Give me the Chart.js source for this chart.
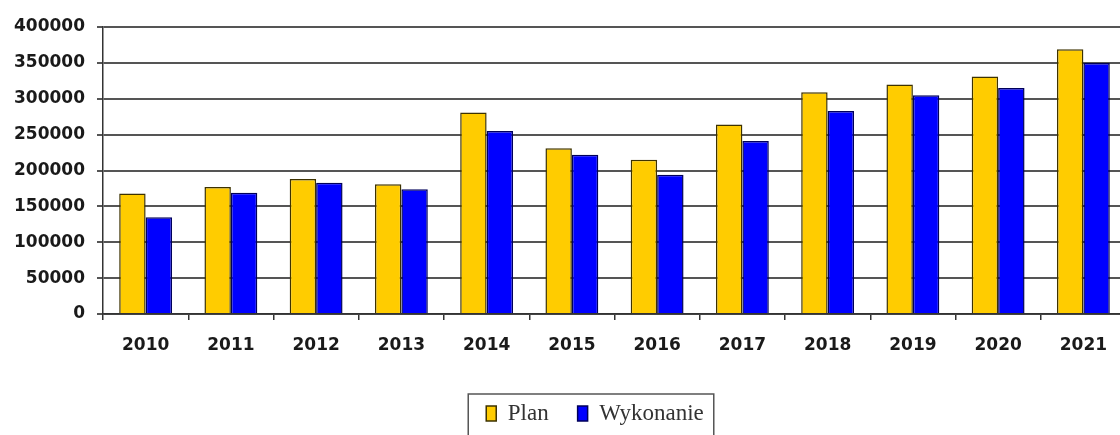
<!DOCTYPE html>
<html>
<head>
<meta charset="utf-8">
<script src="https://cdn.jsdelivr.net/npm/chart.js@4/dist/chart.umd.min.js"></script>
<style>
  html, body { margin: 0; padding: 0; background: #fff; overflow: hidden; }
  #wrap { width: 1120px; height: 435px; overflow: hidden; position: relative; }
  #wrap canvas { display: block; }
</style>
</head>
<body>
<div id="wrap">
  <canvas id="chart" width="1126" height="435" style="width:1126px;height:435px"></canvas>
</div>
<script>
const years = ["2010", "2011", "2012", "2013", "2014", "2015", "2016", "2017", "2018", "2019", "2020", "2021"];
const planValues = [168000, 177000, 188000, 181000, 281000, 231000, 215000, 264000, 309000, 320000, 331000, 369000];
const doneValues = [135000, 169000, 183000, 174000, 255000, 222000, 194000, 241000, 283000, 305000, 315000, 350000];
const yTicks = { min: 0, max: 400000, step: 50000 };

const axisFont = { family: "DejaVu Sans", size: 17, weight: "bold" };
const legendCenterX = 595;

// legend sits a bit right of the canvas centre and has a thin frame around it
const legendFrame = {
  id: "legendFrame",
  afterLayout(chart) {
    const lg = chart.legend;
    const dx = legendCenterX - (lg.left + lg.right) / 2;
    lg.left += dx;
    lg.right += dx;
  },
  afterDraw(chart) {
    const lg = chart.legend;
    const pad = lg.options.labels.padding;
    const start = (lg.left + pad + lg.right - lg.lineWidths[0]) / 2;
    const end = start + lg.lineWidths[0] - pad;
    const top = lg.top + pad - 8;
    const ctx = chart.ctx;
    ctx.save();
    ctx.strokeStyle = "#555";
    ctx.lineWidth = 1.5;
    ctx.strokeRect(start - 18, top, end - start + 28, 60);
    ctx.restore();
  }
};

new Chart(document.getElementById("chart"), {
  type: "bar",
  data: {
    labels: years,
    datasets: [
      {
        label: "Plan",
        data: planValues,
        backgroundColor: "#ffcc00",
        borderColor: "#3d3200",
        borderWidth: 1.5
      },
      {
        label: "Wykonanie",
        data: doneValues,
        backgroundColor: "#0000ff",
        borderColor: "#00005a",
        borderWidth: 1.5
      }
    ]
  },
  options: {
    responsive: false,
    animation: false,
    layout: { padding: { top: 27, left: 0, right: 0, bottom: 0 } },
    datasets: {
      bar: { categoryPercentage: 0.62, barPercentage: 1.0 }
    },
    scales: {
      x: {
        offset: true,
        grid: { offset: true, drawOnChartArea: false, color: "#333", lineWidth: 1.5, tickLength: 6 },
        border: { color: "#333", width: 1.5 },
        ticks: { font: axisFont, color: "#1a1a1a", padding: 15, maxRotation: 0 },
        afterFit(axis) { axis.height = 59; }
      },
      y: {
        min: yTicks.min,
        max: yTicks.max,
        grid: { color: "#555", lineWidth: 2, tickLength: 6 },
        border: { color: "#333", width: 1.5 },
        ticks: {
          stepSize: yTicks.step,
          font: axisFont,
          color: "#1a1a1a",
          padding: 12,
          callback: (v) => String(v)
        },
        afterFit(axis) { axis.width = 103; }
      }
    },
    plugins: {
      tooltip: { enabled: false },
      legend: {
        position: "bottom",
        labels: {
          boxWidth: 10,
          boxHeight: 15,
          padding: 29,
          color: "#333",
          font: { family: "Liberation Serif", size: 23 }
        }
      }
    }
  },
  plugins: [legendFrame]
});
</script>
</body>
</html>
